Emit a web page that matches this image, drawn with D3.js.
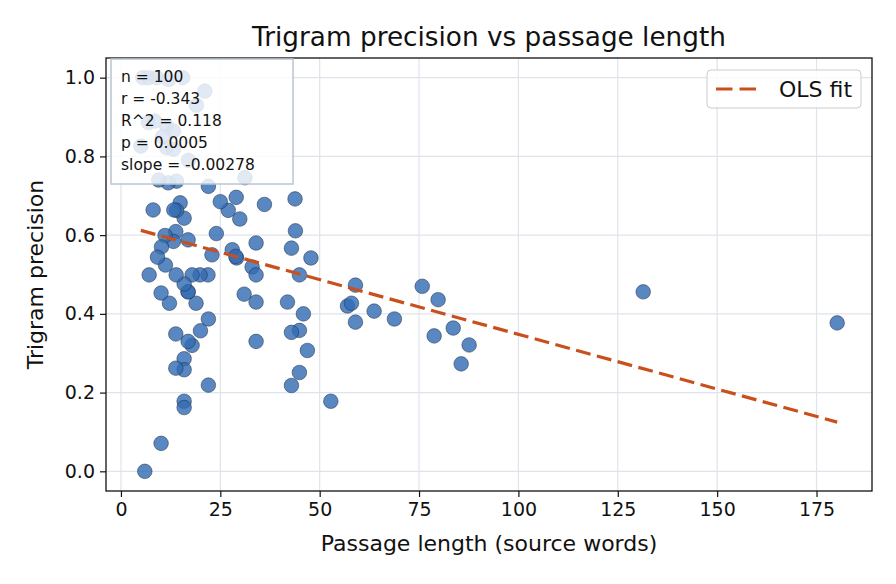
<!DOCTYPE html>
<html>
<head>
<meta charset="utf-8">
<script src="https://cdn.jsdelivr.net/npm/d3@7"></script>
<style>
  html, body { margin: 0; padding: 0; background: #ffffff; }
  svg { display: block; font-family: "DejaVu Sans", sans-serif; }
</style>
</head>
<body>
<svg id="chart" width="896" height="584"></svg>
<script>
// ---- Data ----
const passageLength = [
  180.2, 131.4, 87.6, 85.6, 83.6, 79.8, 78.8, 75.8, 68.8, 63.7,
  59.0, 57.0, 58.0, 59.0, 52.8, 47.8, 46.9, 45.9, 44.9, 44.9,
  44.9, 43.8, 43.9, 42.9, 41.9, 42.9, 42.9, 36.1, 34.0, 33.0,
  34.0, 34.0, 34.0, 31.0, 31.2, 29.9, 29.0, 28.0, 29.1, 28.9,
  27.0, 25.0, 24.0, 22.9, 22.0, 22.0, 22.0, 21.9, 19.9, 17.9,
  20.0, 18.9, 17.9, 16.9, 16.9, 16.9, 16.9, 15.9, 15.9, 15.9,
  15.9, 15.9, 15.9, 14.9, 14.0, 13.3, 13.8, 13.2, 13.9, 13.8,
  13.8, 12.2, 11.1, 11.2, 10.2, 10.1, 10.1, 9.2, 8.1, 7.1,
  6.0, 14.0, 11.9, 6.9, 11.5, 13.2, 5.0, 11.5, 13.2, 21.1,
  5.5, 7.0, 9.0, 12.0, 15.5, 9.5, 8.5, 10.5, 19.0, 17.0
];
const trigramPrecision = [
  0.377, 0.456, 0.321, 0.273, 0.364, 0.436, 0.344, 0.470, 0.387, 0.407,
  0.473, 0.420, 0.427, 0.379, 0.178, 0.542, 0.307, 0.400, 0.499, 0.358,
  0.251, 0.692, 0.611, 0.567, 0.430, 0.353, 0.218, 0.678, 0.580, 0.519,
  0.499, 0.430, 0.330, 0.450, 0.746, 0.641, 0.696, 0.563, 0.542, 0.546,
  0.663, 0.685, 0.604, 0.550, 0.724, 0.387, 0.219, 0.499, 0.499, 0.499,
  0.357, 0.427, 0.320, 0.330, 0.456, 0.456, 0.588, 0.643, 0.476, 0.286,
  0.258, 0.178, 0.162, 0.682, 0.663, 0.664, 0.609, 0.584, 0.499, 0.349,
  0.262, 0.427, 0.599, 0.524, 0.570, 0.453, 0.071, 0.544, 0.664, 0.499,
  0.000, 0.737, 0.733, 0.886, 0.877, 0.864, 0.826, 0.822, 0.818, 0.966,
  1.000, 1.000, 1.000, 0.995, 1.000, 0.740, 0.890, 0.850, 0.930, 0.790
];
const fitSlope = -0.00278;
const fitIntercept = 0.626;
const statsLines = ["n = 100", "r = -0.343", "R^2 = 0.118", "p = 0.0005", "slope = -0.00278"];
const xTicks = [0, 25, 50, 75, 100, 125, 150, 175];
const yTicks = [0.0, 0.2, 0.4, 0.6, 0.8, 1.0];
const yTickLabels = ["0.0", "0.2", "0.4", "0.6", "0.8", "1.0"];
const titleText = "Trigram precision vs passage length";
const xLabelText = "Passage length (source words)";
const yLabelText = "Trigram precision";
const legendLabel = "OLS fit";

// ---- Layout ----
const W = 896, H = 584;
const plot = { left: 106, right: 872, top: 58, bottom: 491 };

const svg = d3.select("#chart");

const xMin = d3.min(passageLength), xMax = d3.max(passageLength);
const yMin = d3.min(trigramPrecision), yMax = d3.max(trigramPrecision);
const xPad = (xMax - xMin) * 0.05, yPad = (yMax - yMin) * 0.05;

const x = d3.scaleLinear().domain([xMin - xPad, xMax + xPad]).range([plot.left, plot.right]);
const y = d3.scaleLinear().domain([yMin - yPad, yMax + yPad]).range([plot.bottom, plot.top]);

// grid
const grid = svg.append("g");
grid.selectAll("line.gx").data(xTicks).join("line")
  .attr("x1", d => x(d)).attr("x2", d => x(d))
  .attr("y1", plot.top).attr("y2", plot.bottom)
  .attr("stroke", "#dfe4ec").attr("stroke-width", 1.2);
grid.selectAll("line.gy").data(yTicks).join("line")
  .attr("y1", d => y(d)).attr("y2", d => y(d))
  .attr("x1", plot.left).attr("x2", plot.right)
  .attr("stroke", "#dfe4ec").attr("stroke-width", 1.2);

// points
const pts = passageLength.map((v, i) => ({ x: v, y: trigramPrecision[i] }));
svg.append("g").selectAll("circle").data(pts).join("circle")
  .attr("cx", d => x(d.x)).attr("cy", d => y(d.y)).attr("r", 7.3)
  .attr("fill", "#336cb3").attr("fill-opacity", 0.82)
  .attr("stroke", "#1b2636").attr("stroke-opacity", 0.8).attr("stroke-width", 0.6);

// OLS line
const fitX = [xMin, xMax];
svg.append("path")
  .datum(fitX.map(v => [v, fitIntercept + fitSlope * v]))
  .attr("d", d3.line().x(d => x(d[0])).y(d => y(d[1])))
  .attr("fill", "none").attr("stroke", "#c9501c").attr("stroke-width", 3.2)
  .attr("stroke-dasharray", "15,6.5");

// axes
const xAxis = d3.axisBottom(x).tickValues(xTicks).tickFormat(d3.format("d")).tickSizeOuter(0).tickSize(6).tickPadding(6);
const yAxis = d3.axisLeft(y).tickValues(yTicks).tickFormat((d, i) => yTickLabels[i]).tickSizeOuter(0).tickSize(6).tickPadding(5);

const gx = svg.append("g").attr("transform", `translate(0,${plot.bottom})`).call(xAxis);
const gy = svg.append("g").attr("transform", `translate(${plot.left},0)`).call(yAxis);
[gx, gy].forEach(g => {
  g.select(".domain").remove();
  g.selectAll(".tick line").attr("stroke", "#111").attr("stroke-width", 1.2);
  g.selectAll(".tick text").attr("fill", "#111").style("font-size", "19px").style("font-family", "DejaVu Sans");
});

// frame
svg.append("rect")
  .attr("x", plot.left).attr("y", plot.top)
  .attr("width", plot.right - plot.left).attr("height", plot.bottom - plot.top)
  .attr("fill", "none").attr("stroke", "#111").attr("stroke-width", 1.3);

// title & labels
svg.append("text").attr("x", (plot.left + plot.right) / 2).attr("y", 46)
  .attr("text-anchor", "middle").attr("fill", "#111").style("font-size", "26.3px").text(titleText);
svg.append("text").attr("x", (plot.left + plot.right) / 2).attr("y", 551)
  .attr("text-anchor", "middle").attr("fill", "#111").style("font-size", "22px").text(xLabelText);
svg.append("text").attr("transform", `translate(43,${(plot.top + plot.bottom) / 2}) rotate(-90)`)
  .attr("text-anchor", "middle").attr("fill", "#111").style("font-size", "22px").text(yLabelText);

// stats box
const sb = svg.append("g");
sb.append("rect").attr("x", 111).attr("y", 59).attr("width", 182).attr("height", 125)
  .attr("fill", "#ffffff").attr("fill-opacity", 0.82)
  .attr("stroke", "#b9c4d3").attr("stroke-width", 1.5);
sb.selectAll("text").data(statsLines).join("text")
  .attr("x", 121).attr("y", (d, i) => 82 + i * 22)
  .attr("fill", "#111").style("font-size", "15.5px").text(d => d);

// legend
const lg = svg.append("g");
lg.append("rect").attr("x", 707).attr("y", 70).attr("width", 154).attr("height", 38).attr("rx", 4)
  .attr("fill", "#ffffff").attr("fill-opacity", 0.85)
  .attr("stroke", "#cccccc").attr("stroke-width", 1);
lg.append("line").attr("x1", 716).attr("x2", 756).attr("y1", 89).attr("y2", 89)
  .attr("stroke", "#c9501c").attr("stroke-width", 3.2).attr("stroke-dasharray", "16.5,7");
lg.append("text").attr("x", 779).attr("y", 97).attr("fill", "#111").style("font-size", "22px").text(legendLabel);
</script>
</body>
</html>
